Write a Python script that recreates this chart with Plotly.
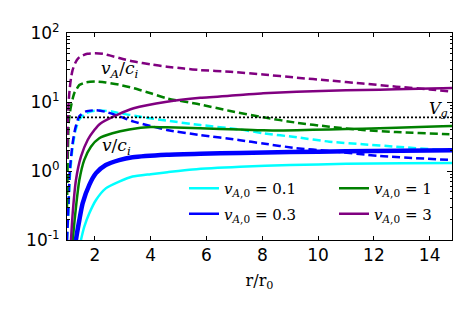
import plotly.graph_objects as go

# ---------------- data ----------------
# v/c_i (solid) curves
r_s01 = [1.45, 1.50, 1.62, 1.80, 2.04, 2.39, 2.87, 3.35, 4.0, 4.6, 5.5, 7.2, 9.0, 11.0, 13.0, 14.8]
v_s01 = [0.08, 0.10, 0.156, 0.244, 0.38, 0.56, 0.70, 0.83, 0.90, 0.96, 1.05, 1.15, 1.22, 1.27, 1.30, 1.31]

r_s03 = [1.30, 1.32, 1.443, 1.56, 1.80, 2.04, 2.39, 2.87, 3.35, 4.58, 5.78, 7.2, 9.0, 11.0, 13.0, 14.8]
v_s03 = [0.08, 0.10, 0.195, 0.34, 0.63, 0.93, 1.22, 1.44, 1.58, 1.72, 1.78, 1.82, 1.88, 1.93, 1.97, 2.0]

r_s1 = [1.19, 1.204, 1.321, 1.443, 1.62, 1.857, 2.157, 2.63, 3.23, 4.0, 4.58, 5.78, 7.2, 8.04, 9.24, 10.4, 11.6, 12.8, 14.46, 14.8]
v_s1 = [0.08, 0.10, 0.30, 0.74, 1.45, 2.25, 2.98, 3.52, 4.0, 4.35, 4.3, 4.15, 3.98, 3.88, 3.9, 4.0, 4.1, 4.25, 4.45, 4.5]

r_s3 = [1.13, 1.143, 1.204, 1.321, 1.50, 1.74, 1.98, 2.2, 2.8, 3.39, 4.58, 5.78, 7.2, 8.03, 9.23, 10.4, 11.6, 12.8, 14.46, 14.8]
v_s3 = [0.08, 0.10, 0.244, 0.74, 1.61, 2.81, 3.93, 4.9, 6.5, 8.1, 10.1, 11.5, 12.6, 13.4, 14.1, 14.6, 14.9, 15.3, 15.8, 15.9]

# v_A/c_i (dashed) curves
r_d01 = [1.0, 1.05, 1.1, 1.2, 1.3, 1.44, 1.68, 1.92, 2.2, 2.6, 2.8, 3.63, 4.58, 5.78, 7.2, 8.04, 9.24, 10.4, 11.6, 12.8, 14.46, 14.8]
v_d01 = [0.1, 0.25, 0.8, 2.2, 3.8, 5.6, 6.9, 7.4, 7.55, 7.3, 7.0, 6.1, 5.36, 4.64, 4.0, 3.52, 3.08, 2.66, 2.44, 2.25, 2.01, 1.98]

r_d03 = [1.0, 1.05, 1.1, 1.2, 1.3, 1.44, 1.68, 2.04, 2.39, 2.92, 3.39, 3.99, 4.58, 5.78, 7.2, 8.03, 9.2, 10.4, 12.2, 14.8]
v_d03 = [0.1, 0.3, 1.0, 2.5, 4.2, 6.2, 7.3, 7.6, 7.2, 6.1, 5.2, 4.5, 3.93, 3.32, 2.8, 2.5, 2.15, 1.95, 1.65, 1.44]

r_d1 = [1.0, 1.03, 1.06, 1.1, 1.14, 1.2, 1.26, 1.35, 1.44, 1.68, 2.04, 2.39, 2.87, 3.4, 4.0, 4.58, 5.78, 6.85, 8.04, 9.24, 10.4, 11.6, 12.8, 14.46, 14.8]
v_d1 = [0.3, 1.8, 4.9, 6.8, 8.5, 11.0, 13.4, 15.5, 17.6, 19.3, 19.8, 19.2, 17.8, 15.8, 13.4, 11.3, 9.2, 7.4, 6.0, 5.0, 4.39, 3.93, 3.67, 3.44, 3.4]

r_d3 = [1.0, 1.03, 1.06, 1.1, 1.15, 1.2, 1.3, 1.4, 1.55, 1.73, 2.0, 2.3, 2.56, 3.0, 3.4, 4.0, 4.58, 5.2, 5.78, 6.85, 8.03, 9.24, 10.4, 11.6, 12.8, 14.0, 14.8]
v_d3 = [1.5, 5.0, 10.0, 16.0, 23.0, 29.0, 37.0, 43.0, 47.0, 50.0, 51.0, 50.0, 47.0, 42.0, 38.5, 35.0, 32.5, 30.5, 29.0, 27.5, 25.0, 22.5, 20.5, 18.5, 16.7, 15.2, 14.2]

Vg = 6.0
r_range = [1.0, 14.8]

colors = {"0.1": "#00FFFF", "0.3": "#0000FF", "1": "#008000", "3": "#800080"}

x_ticks = [2, 4, 6, 8, 10, 12, 14]
y_ticks = [0.1, 1, 10, 100]
y_ticktext = ["10<sup>-1</sup>", "10<sup>0</sup>", "10<sup>1</sup>", "10<sup>2</sup>"]

# ---------------- figure ----------------
fig = go.Figure()

DASH = "8px,4px"
LW = 2.5

def leg(v):
    return "<i>v</i><sub><i>A</i>,0</sub> = " + v

series = [
    ("0.1", r_d01, v_d01, r_s01, v_s01, 2.5, "legend"),
    ("0.3", r_d03, v_d03, r_s03, v_s03, 4.5, "legend"),
    ("1", r_d1, v_d1, r_s1, v_s1, 2.5, "legend2"),
    ("3", r_d3, v_d3, r_s3, v_s3, 2.5, "legend2"),
]

for key, rd, vd, rs, vs, wsol, lg in series:
    c = colors[key]
    fig.add_trace(go.Scatter(x=rd, y=vd, mode="lines", showlegend=False,
                             line=dict(color=c, width=LW, dash=DASH, shape="spline", smoothing=0.6)))
for key, rd, vd, rs, vs, wsol, lg in series:
    c = colors[key]
    if wsol != LW:
        # legend entry drawn at the normal line width (curve itself is thicker)
        fig.add_trace(go.Scatter(x=rs, y=vs, mode="lines", name=leg(key), legend=lg, legendgroup=key,
                                 line=dict(color=c, width=LW, shape="spline", smoothing=0.6)))
        fig.add_trace(go.Scatter(x=rs, y=vs, mode="lines", showlegend=False, legendgroup=key,
                                 line=dict(color=c, width=wsol, shape="spline", smoothing=0.6)))
    else:
        fig.add_trace(go.Scatter(x=rs, y=vs, mode="lines", name=leg(key), legend=lg, legendgroup=key,
                                 line=dict(color=c, width=wsol, shape="spline", smoothing=0.6)))

fig.add_trace(go.Scatter(x=r_range, y=[Vg, Vg], mode="lines", showlegend=False,
                         line=dict(color="black", width=1.8, dash="2px,2px")))

serif = "DejaVu Serif"

fig.add_annotation(x=2.89, y=1.464, text="<i>v</i><sub><i>A</i></sub>/<i>c</i><sub><i>i</i></sub>",
                   showarrow=False, font=dict(family=serif, size=17, color="black"))
fig.add_annotation(x=2.77, y=0.348, text="<i>v</i>/<i>c</i><sub><i>i</i></sub>",
                   showarrow=False, font=dict(family=serif, size=17, color="black"))
fig.add_annotation(x=14.3, y=0.885, text="<i>V</i><sub><i>g</i></sub>",
                   showarrow=False, font=dict(family=serif, size=16, color="black"))

axis_common = dict(showline=True, linecolor="black", linewidth=1, mirror="ticks",
                   ticks="inside", tickcolor="black", showgrid=False, zeroline=False,
                   automargin=False,
                   tickfont=dict(family="DejaVu Sans", size=17, color="black"))

fig.update_xaxes(range=r_range, tickvals=x_ticks, ticklen=4, ticklabelstandoff=0,
                 title=dict(text="r/r<sub>0</sub>", font=dict(family=serif, size=16, color="black"), standoff=10),
                 **axis_common)
fig.update_yaxes(type="log", range=[-1, 2], tickvals=y_ticks, ticktext=y_ticktext, ticklen=5,
                 minor=dict(ticks="inside", ticklen=2.5, tickcolor="black", dtick="D1", showgrid=False),
                 ticklabelstandoff=3, **axis_common)

legend_common = dict(orientation="v", xanchor="left", yanchor="top", bgcolor="rgba(0,0,0,0)",
                     font=dict(family=serif, size=15, color="black"), tracegroupgap=3,
                     traceorder="grouped")

# the page body adds an 8px offset; margins compensate so the plot area sits at x 67-452, y 33-240
fig.update_layout(
    width=474, height=316,
    margin=dict(l=59, r=30, t=25, b=84),
    paper_bgcolor="white", plot_bgcolor="white",
    showlegend=True,
    legend=dict(x=(184 - 67) / 385, y=(240 - 172) / 207, **legend_common),
    legend2=dict(x=(334 - 67) / 385, y=(240 - 172) / 207, **legend_common),
    font=dict(family="DejaVu Sans", color="black"),
)

fig.write_html("out.html")
